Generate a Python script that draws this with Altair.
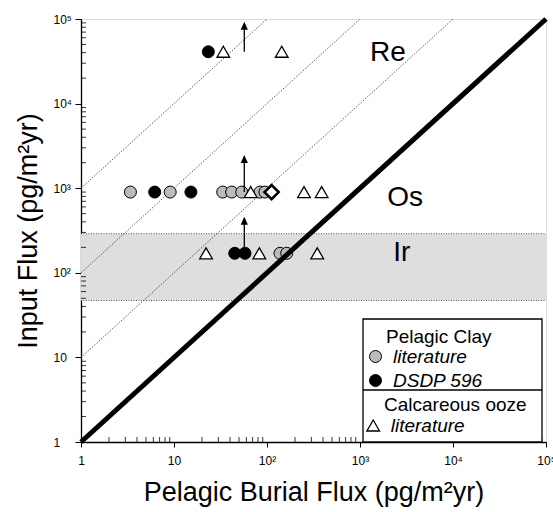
import altair as alt
import pandas as pd

FONT = "Liberation Sans"

# ---------------- data ----------------
# Pelagic clay, literature (grey circles)
pc_lit_x = [3.4, 9.1, 33.4, 41.7, 53.5, 84, 95, 138, 163]
pc_lit_y = [900, 900, 900, 900, 900, 900, 900, 170, 170]
# Pelagic clay, DSDP 596 (black circles)
dsdp_x = [6.2, 15.2, 23.4, 45, 58]
dsdp_y = [900, 900, 41000, 170, 170]
# Calcareous ooze, literature (open triangles)
calc_x = [22.1, 33.9, 66.8, 82.7, 144, 250, 347, 387]
calc_y = [170, 41000, 900, 170, 41000, 900, 170, 900]
# open diamond
diamond_x = [112]
diamond_y = [900]
# lower-limit arrows
arrow_x = [57, 57, 57]
arrow_from = [900, 170, 41000]
arrow_to = [2215, 413, 83400]
# reference lines  Input = k * Burial
ref_ratios = [1, 10, 100, 1000]
# shaded band
band_low = [47]
band_high = [290]
# element labels
element_names = ["Re", "Os", "Ir"]
element_x = [2000, 3050, 2810]
element_y = [39600, 766, 171]
# axis ticks
major_ticks = [1, 10, 100, 1000, 10000, 100000]
tick_labels = ["1", "10", "10²", "10³", "10⁴", "10⁵"]
minor_ticks = [m * 10 ** k for k in range(5) for m in range(2, 10)]

# ---------------- tables ----------------
pc_df = pd.DataFrame({
    "x": pc_lit_x + dsdp_x,
    "y": pc_lit_y + dsdp_y,
    "pc_series": ["literature"] * len(pc_lit_x) + ["DSDP 596"] * len(dsdp_x),
})
co_df = pd.DataFrame({"x": calc_x, "y": calc_y, "co_series": ["literature"] * len(calc_x)})
dia_df = pd.DataFrame({"x": diamond_x, "y": diamond_y})
arr_df = pd.DataFrame({"x": arrow_x, "y": arrow_from, "y2": arrow_to})
lines = []
for k in ref_ratios:
    lines.append({"x": 1, "y": k, "k": k})
    lines.append({"x": 100000 / k, "y": 100000, "k": k})
line_df = pd.DataFrame(lines)
band_df = pd.DataFrame({"lo": band_low, "hi": band_high})
el_df = pd.DataFrame({"x": element_x, "y": element_y, "t": element_names})
minor_df = pd.DataFrame({"v": minor_ticks})

label_expr = " : ".join(
    f"datum.value == {v} ? '{t}'" for v, t in zip(major_ticks[:-1], tick_labels[:-1])
) + f" : '{tick_labels[-1]}'"

SC = alt.Scale(type="log", domain=[1, 100000], nice=False)
XAXIS = alt.Axis(
    values=major_ticks, labelExpr=label_expr, title="Pelagic Burial Flux (pg/m²yr)",
    grid=False, tickSize=5, tickColor="black", tickWidth=1, domainColor="black", domainWidth=1.3,
    labelFont=FONT, labelFontSize=12, labelColor="black", labelPadding=8,
    labelOverlap=False, labelFlush=False,
    titleFont=FONT, titleFontSize=27, titleFontWeight="normal", titleColor="black",
    titleY=58, titleBaseline="alphabetic",
)
YAXIS = alt.Axis(
    values=major_ticks, labelExpr=label_expr, title="Input Flux (pg/m²yr)",
    grid=False, tickSize=6, tickColor="black", tickWidth=1, domainColor="black", domainWidth=1.3,
    labelFont=FONT, labelFontSize=12, labelColor="black", labelPadding=22,
    labelAlign="left", labelBaseline="middle", labelOverlap=False, labelFlush=False,
    titleFont=FONT, titleFontSize=27, titleFontWeight="normal", titleColor="black",
    titleX=-45, titleBaseline="alphabetic",
)


def X(f):
    return alt.X(f, type="quantitative", scale=SC, axis=XAXIS)


def Y(f):
    return alt.Y(f, type="quantitative", scale=SC, axis=YAXIS)


one = alt.Data(values=[{}])

LEG_COMMON = dict(
    orient="none", direction="vertical", padding=0,
    titleFont=FONT, titleFontSize=19, titleFontWeight="normal", titleColor="black",
    labelFont=FONT, labelFontSize=19, labelFontStyle="italic", labelColor="black",
)

band = alt.Chart(band_df).mark_rect(fill="#dedede").encode(
    x=alt.datum(1, scale=SC, axis=XAXIS, type="quantitative"), x2=alt.datum(100000),
    y=Y("lo"), y2="hi")
band_edges = alt.Chart(band_df).transform_fold(["lo", "hi"], as_=["edge", "val"]).mark_rule(
    color="#555555", strokeWidth=1, strokeDash=[1, 1.5]).encode(
    x=alt.datum(1, scale=SC, axis=XAXIS, type="quantitative"), x2=alt.datum(100000),
    y=Y("val"))

dotted = alt.Chart(line_df).transform_filter("datum.k > 1").mark_line(
    color="#333333", strokeWidth=0.8, strokeDash=[1.5, 1.5]).encode(
    x=X("x"), y=Y("y"), detail="k:N")

pc_pts = alt.Chart(pc_df).mark_point(
    filled=True, shape="circle", size=144, stroke="black", strokeWidth=1, opacity=1).encode(
    x=X("x"), y=Y("y"),
    fill=alt.Fill("pc_series:N",
                  scale=alt.Scale(domain=["literature", "DSDP 596"], range=["#bbbbbb", "#000000"]),
                  legend=alt.Legend(
                      title="Pelagic Clay", legendX=305, legendY=309, titlePadding=0,
                      symbolType="circle", symbolSize=144,
                      symbolOffset={"expr": "-20"}, labelOffset=8,
                      symbolStrokeColor="black", symbolStrokeWidth=1, rowPadding=4,
                      **LEG_COMMON)))

co_pts = alt.Chart(co_df).mark_point(
    shape="triangle-up", filled=True, fill="white", strokeWidth=1.3, size=160, opacity=1
).encode(
    x=X("x"), y=Y("y"),
    stroke=alt.Stroke("co_series:N",
                      scale=alt.Scale(domain=["literature"], range=["black"]),
                      legend=alt.Legend(
                          title="Calcareous ooze", legendX=303, legendY=377, titlePadding=1,
                          symbolType="triangle-up", symbolSize=160,
                          symbolOffset={"expr": "-20.3"}, labelOffset=8,
                          symbolFillColor="white", symbolStrokeWidth=1.3,
                          **LEG_COMMON)))

dia = alt.Chart(dia_df).mark_point(
    shape="diamond", filled=True, fill="white", stroke="black", strokeWidth=2.6, size=200, opacity=1
).encode(x=X("x"), y=Y("y"))

arr_rule = alt.Chart(arr_df).mark_rule(color="black", strokeWidth=1.3).encode(
    x=X("x"), y=Y("y"), y2="y2")
arr_head = alt.Chart(arr_df).mark_point(
    shape="M0,-1L-0.9,1L0.9,1Z", filled=True, color="black", size=64, opacity=1).encode(
    x=X("x"), y=Y("y2"))

thick = alt.Chart(line_df).transform_filter("datum.k == 1").mark_line(
    color="black", strokeWidth=5, strokeCap="butt").encode(x=X("x"), y=Y("y"))

el_text = alt.Chart(el_df).mark_text(
    font=FONT, fontSize=28, color="black", align="center", baseline="middle").encode(
    x=X("x"), y=Y("y"), text="t:N")

minor_x = alt.Chart(minor_df).mark_rule(color="black", strokeWidth=0.8).encode(
    x=X("v"), y=alt.value(423), y2=alt.value(418))
minor_y = alt.Chart(minor_df).mark_rule(color="black", strokeWidth=0.8).encode(
    y=Y("v"), x=alt.value(0), x2=alt.value(5))

leg_box = alt.Chart(one).mark_rect(fill="white", stroke="black", strokeWidth=1.3).encode(
    x=alt.value(282), x2=alt.value(461), y=alt.value(300), y2=alt.value(423))
leg_div = alt.Chart(one).mark_rule(color="black", strokeWidth=1.3).encode(
    x=alt.value(282), x2=alt.value(461), y=alt.value(371))

chart = alt.layer(
    band, band_edges, dotted, pc_pts, co_pts, dia, arr_rule, arr_head, thick, el_text,
    minor_x, minor_y, leg_box, leg_div,
).properties(
    width=465, height=423, autosize="none",
    padding={"left": 81, "top": 19, "right": 7, "bottom": 70},
).configure_view(stroke="black", strokeWidth=1.3).configure(background="white")

chart.save("out.html", embed_options={"renderer": "svg", "actions": False})
